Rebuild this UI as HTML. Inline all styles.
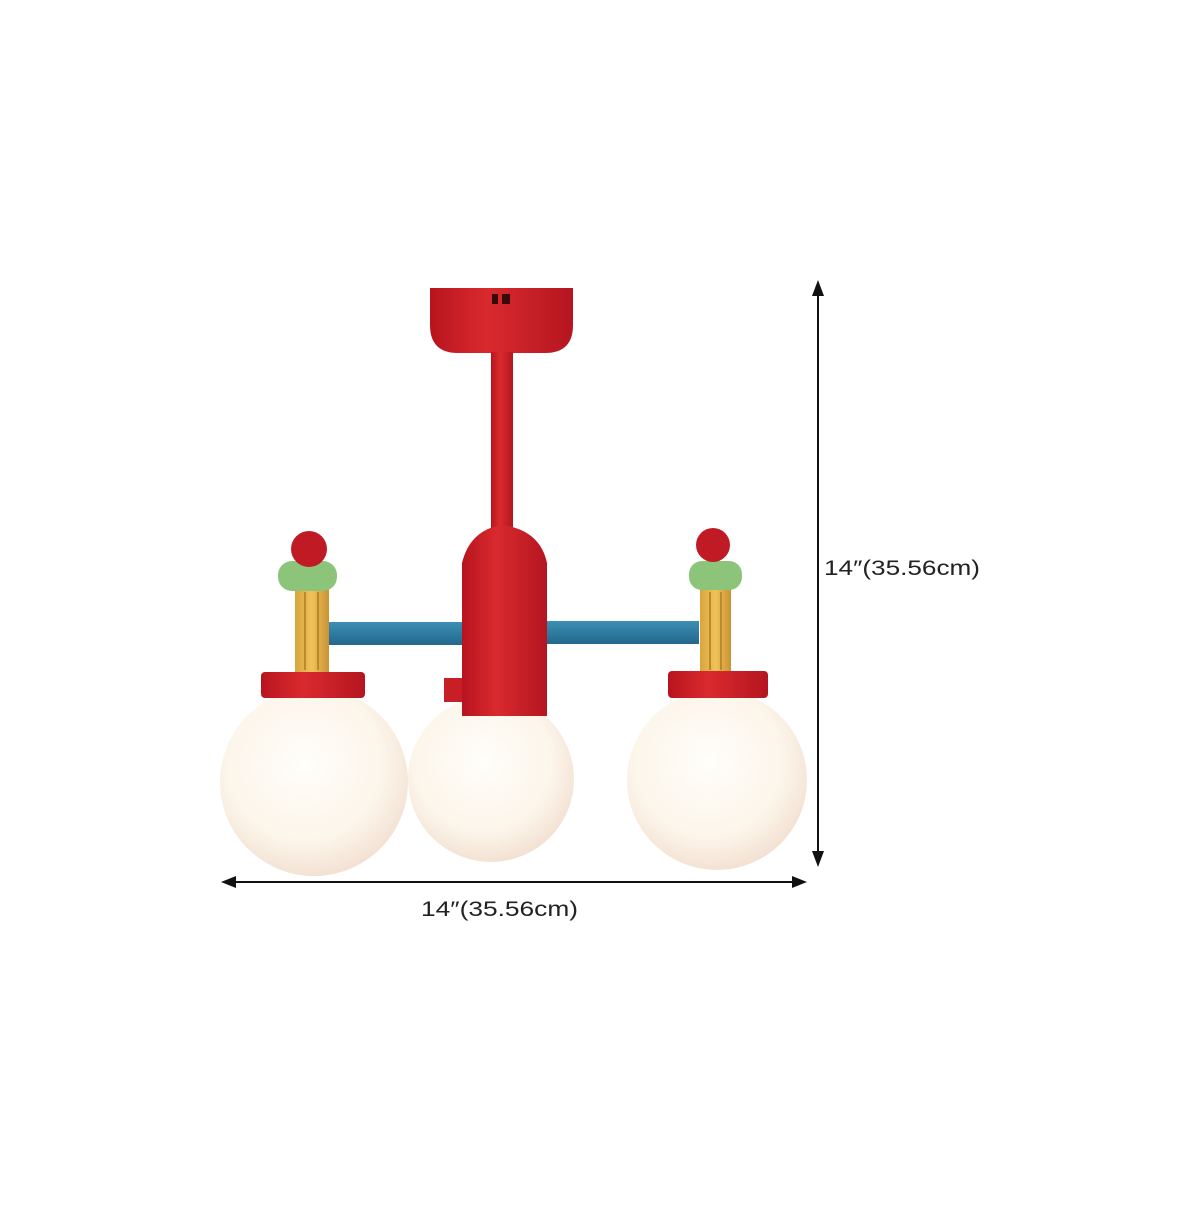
<!DOCTYPE html>
<html><head><style>
body{margin:0;background:#fff;}
.t{font-family:"Liberation Sans",sans-serif;font-size:21px;fill:#222;}
</style></head><body>
<svg width="1200" height="1200" viewBox="0 0 1200 1200" xmlns="http://www.w3.org/2000/svg">
<defs>
<radialGradient id="g" cx="45%" cy="40%" r="60%">
<stop offset="0" stop-color="#fffefa"/><stop offset="0.7" stop-color="#fcf5ea"/><stop offset="1" stop-color="#f3e2d4"/>
</radialGradient>
<linearGradient id="r" x1="0" x2="1"><stop offset="0" stop-color="#b8141e"/><stop offset="0.4" stop-color="#d92a2e"/><stop offset="1" stop-color="#b51520"/></linearGradient>
<linearGradient id="y" x1="0" x2="1"><stop offset="0" stop-color="#d9a53c"/><stop offset="0.5" stop-color="#f0c25a"/><stop offset="1" stop-color="#c99232"/></linearGradient>
<linearGradient id="b" x1="0" y1="0" x2="0" y2="1"><stop offset="0" stop-color="#3d8fb5"/><stop offset="1" stop-color="#23678c"/></linearGradient>
</defs>
<path d="M430 288 H573 V325 Q573 353 545 353 H458 Q430 353 430 325 Z" fill="url(#r)"/>
<rect x="492" y="294" width="6" height="10" fill="#3a0a0a"/><rect x="502" y="294" width="8" height="10" fill="#3a0a0a"/>
<rect x="491" y="352" width="22" height="190" fill="url(#r)"/>
<rect x="329" y="622" width="135" height="23" fill="url(#b)"/>
<rect x="545" y="621" width="154" height="23" fill="url(#b)"/>
<rect x="295" y="588" width="34" height="86" fill="url(#y)"/>
<line x1="305" y1="592" x2="305" y2="670" stroke="#b07a24" stroke-width="1.5"/><line x1="318" y1="592" x2="318" y2="670" stroke="#b07a24" stroke-width="1.5"/>
<rect x="278" y="561" width="59" height="30" rx="14" fill="#8cc47a"/>
<circle cx="309" cy="549" r="18" fill="#c01a24"/>
<rect x="700" y="588" width="31" height="86" fill="url(#y)"/>
<line x1="710" y1="592" x2="710" y2="670" stroke="#b07a24" stroke-width="1.5"/><line x1="721" y1="592" x2="721" y2="670" stroke="#b07a24" stroke-width="1.5"/>
<rect x="689" y="561" width="53" height="29" rx="13" fill="#8cc47a"/>
<circle cx="713" cy="545" r="17" fill="#c01a24"/>
<circle cx="314" cy="782" r="94" fill="url(#g)"/>
<circle cx="717" cy="780" r="90" fill="url(#g)"/>
<circle cx="491" cy="779" r="83" fill="url(#g)"/>
<rect x="261" y="672" width="104" height="26" rx="4" fill="url(#r)"/>
<rect x="668" y="671" width="100" height="27" rx="4" fill="url(#r)"/>
<rect x="444" y="678" width="22" height="24" fill="#c81e26"/>
<path d="M462 563 Q470 530 502 525 Q540 530 547 563 V716 H462 Z" fill="url(#r)"/>
<line x1="230" y1="882" x2="798" y2="882" stroke="#111" stroke-width="2"/>
<polygon points="221,882 236,876 236,888" fill="#111"/>
<polygon points="807,882 792,876 792,888" fill="#111"/>
<line x1="818" y1="290" x2="818" y2="858" stroke="#111" stroke-width="2"/>
<polygon points="818,280 812,296 824,296" fill="#111"/>
<polygon points="818,867 812,851 824,851" fill="#111"/>
<text class="t" x="421" y="916" textLength="157" lengthAdjust="spacingAndGlyphs">14″(35.56cm)</text>
<text class="t" x="824" y="575" textLength="156" lengthAdjust="spacingAndGlyphs">14″(35.56cm)</text>
</svg>
</body></html>
